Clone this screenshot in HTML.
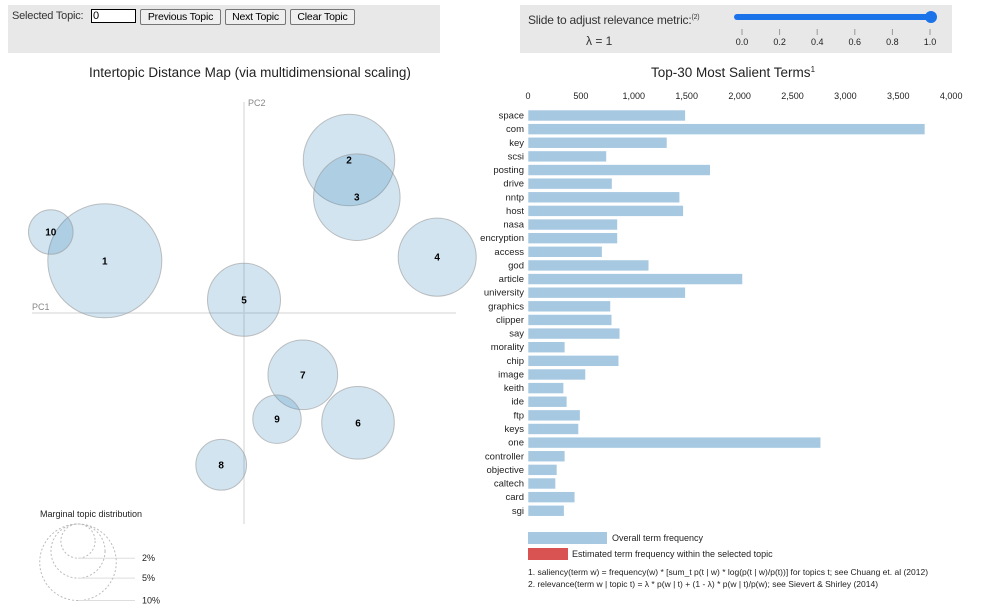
<!DOCTYPE html>
<html><head><meta charset="utf-8">
<style>
body{margin:0;width:983px;height:614px;background:#fff;font-family:"Liberation Sans",sans-serif;overflow:hidden;position:relative}
.panel{position:absolute;background:#e8e8e8}
button{position:absolute;font:10.5px "Liberation Sans",sans-serif;height:16px;padding:0;white-space:nowrap;background:#efefef;border:1px solid #767676;border-radius:2px;color:#000;line-height:14px;letter-spacing:-0.2px}
</style></head><body>
<div class="panel" style="left:8px;top:5px;width:432px;height:48px"></div>
<div style="position:absolute;left:12px;top:10px;font-size:11px;color:#333;letter-spacing:-0.2px">Selected Topic:</div>
<input value="0" style="position:absolute;left:91px;top:9px;width:41px;height:12px;font-size:11px;border:1px solid #000;padding:0 1px">
<button style="left:140px;top:9px;width:81px">Previous Topic</button>
<button style="left:225px;top:9px;width:61px">Next Topic</button>
<button style="left:290px;top:9px;width:65px">Clear Topic</button>
<div class="panel" style="left:520px;top:5px;width:432px;height:48px"></div>
<div style="position:absolute;left:528px;top:13px;font-size:12px;color:#333;letter-spacing:-0.2px">Slide to adjust relevance metric:<sup style="font-size:7px">(2)</sup></div>
<div style="position:absolute;left:586px;top:34px;font-size:12px;color:#333">λ = 1</div>
<svg style="position:absolute;left:0;top:0" width="983" height="614">
<g>
<line x1="737" y1="17" x2="931" y2="17" stroke="#1a73e8" stroke-width="6" stroke-linecap="round"/>
<circle cx="931" cy="17" r="6" fill="#1a73e8"/>
</g>
<g id="sliderTicks" font-size="9" fill="#222" text-anchor="middle"></g>
<text x="250" y="77" font-size="13.5" text-anchor="middle" fill="#222">Intertopic Distance Map (via multidimensional scaling)</text>
<text x="733" y="77" font-size="13.5" text-anchor="middle" fill="#222">Top-30 Most Salient Terms<tspan font-size="8" dy="-5">1</tspan></text>
<line x1="244" y1="102" x2="244" y2="524" stroke="#e2e2e2" stroke-width="1.5"/>
<line x1="32" y1="313" x2="456" y2="313" stroke="#e2e2e2" stroke-width="1.5"/>
<text x="248" y="106" font-size="9" fill="#888">PC2</text>
<text x="32" y="310" font-size="9" fill="#888">PC1</text>
<g id="circles"></g>
<g id="barAxis" font-size="9" fill="#222" text-anchor="middle"></g>
<g id="bars"></g>
<text x="40" y="517" font-size="9" fill="#222">Marginal topic distribution</text>
<g id="sizeLegend"></g>
<rect x="528" y="532" width="79" height="12" fill="#a6c8e1"/>
<text x="612" y="541" font-size="9" fill="#222">Overall term frequency</text>
<rect x="528" y="548" width="40" height="12" fill="#d95353"/>
<text x="572" y="557" font-size="9" fill="#222">Estimated term frequency within the selected topic</text>
<text x="528" y="575" font-size="8.5" fill="#222">1. saliency(term w) = frequency(w) * [sum_t p(t | w) * log(p(t | w)/p(t))] for topics t; see Chuang et. al (2012)</text>
<text x="528" y="587" font-size="8.5" fill="#222">2. relevance(term w | topic t) = λ * p(w | t) + (1 - λ) * p(w | t)/p(w); see Sievert &amp; Shirley (2014)</text>
</svg>
<script>
const topicIds=[1,2,3,4,5,6,7,8,9,10];
const topicPC1=[-0.232,0.175,0.188,0.322,0.000,0.190,0.098,-0.038,0.055,-0.322];
const topicPC2=[0.087,0.255,0.193,0.093,0.022,-0.183,-0.103,-0.253,-0.177,0.135];
const topicPct=[22.2,14.3,12.8,10.4,9.1,9.0,8.3,4.4,4.0,3.4];
const terms=["space","com","key","scsi","posting","drive","nntp","host","nasa","encryption","access","god","article","university","graphics","clipper","say","morality","chip","image","keith","ide","ftp","keys","one","controller","objective","caltech","card","sgi"];
const termFreq=[1488,3752,1314,742,1723,795,1434,1469,846,846,701,1142,2028,1488,780,792,868,349,858,544,337,368,493,478,2767,349,274,261,443,342];
const barTicks=[0,500,1000,1500,2000,2500,3000,3500,4000];
const sliderTicks=[0,0.2,0.4,0.6,0.8,1.0];
const legendPcts=[2,5,10];
const NS="http://www.w3.org/2000/svg";
function mk(t,a,p){const e=document.createElementNS(NS,t);for(const k in a)e.setAttribute(k,a[k]);p.appendChild(e);return e;}
const xS=v=>244+v*600, yS=v=>313-v*600, rS=p=>12.1*Math.sqrt(p);
const bx=v=>528+v*0.1058;
const bandY=i=>110+i*13.63;
const st=document.getElementById('sliderTicks');
sliderTicks.forEach(v=>{const x=742+v*188;
mk('line',{x1:x,y1:29,x2:x,y2:35,stroke:'#999'},st);
const t=mk('text',{x:x,y:45},st);t.textContent=v.toFixed(1);});
const cg=document.getElementById('circles');
topicIds.forEach((id,i)=>{const g=mk('g',{},cg);


mk('circle',{cx:xS(topicPC1[i]),cy:yS(topicPC2[i]),r:rS(topicPct[i]),fill:'#1f77b4','fill-opacity':0.2,stroke:'#999','stroke-opacity':0.6,'stroke-width':1},g);});
topicIds.forEach((id,i)=>{const t=mk('text',{x:xS(topicPC1[i]),y:yS(topicPC2[i])+3.5,'font-size':10,'font-weight':'bold','text-anchor':'middle',fill:'#000'},cg);


t.textContent=id;});
const ax=document.getElementById('barAxis');


barTicks.forEach(v=>{const t=mk('text',{x:bx(v),y:99},ax);t.textContent=v.toLocaleString('en-US');});
const bg=document.getElementById('bars');
terms.forEach((w,i)=>{const y=bandY(i);
const r=mk('rect',{x:528,y:y,width:bx(termFreq[i])-528,height:11,fill:'#a6c8e1',stroke:'#fff','stroke-width':0.6},bg);


const t=mk('text',{x:524,y:y+8.5,'font-size':9.5,'text-anchor':'end',fill:'#222'},bg);


t.textContent=w;});
const lg=document.getElementById('sizeLegend');


legendPcts.forEach(p=>{const r=rS(p),top=524,cy=top+r,by=top+2*r;
mk('circle',{cx:78,cy:cy,r:r,fill:'none',stroke:'#bbb','stroke-dasharray':'2 2'},lg);
mk('line',{x1:78,y1:by,x2:135,y2:by,stroke:'#ddd'},lg);
const t=mk('text',{x:142,y:by+3,'font-size':9,fill:'#222'},lg);t.textContent=p+'%';});
</script>
</body></html>
